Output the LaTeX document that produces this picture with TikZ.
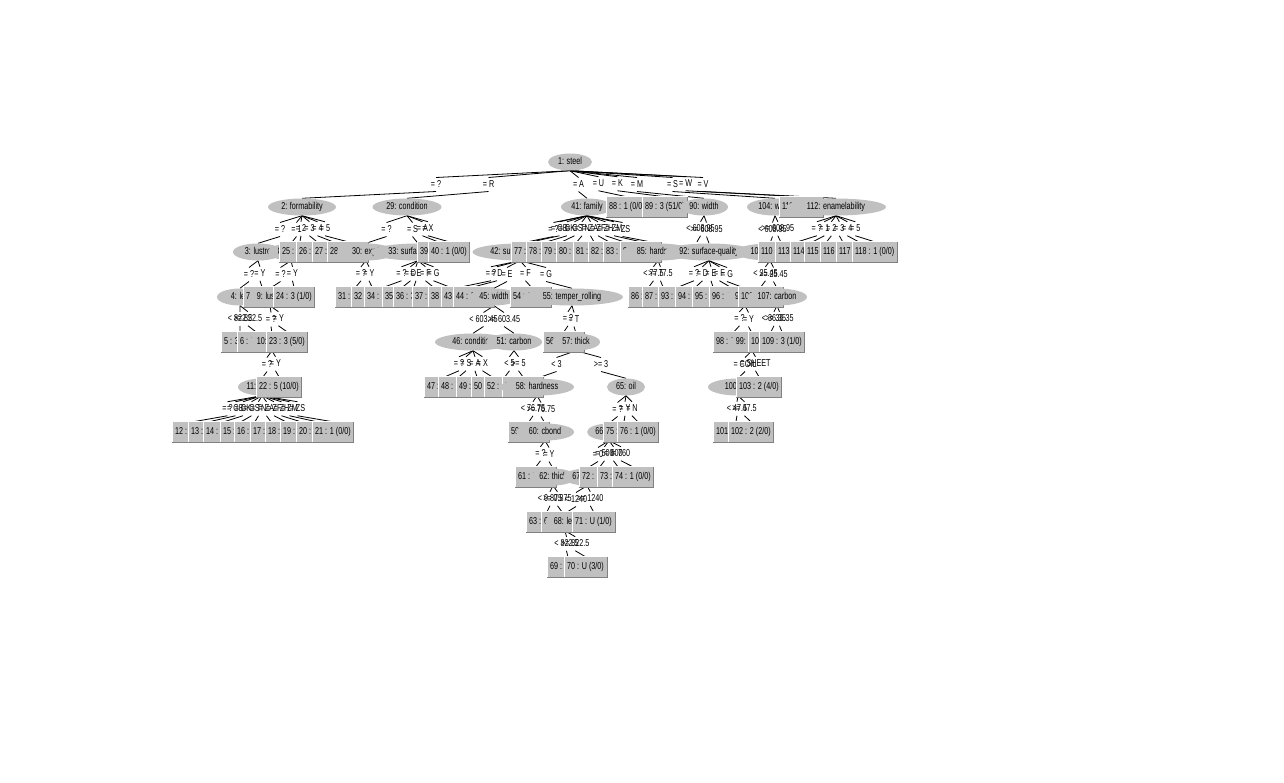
\documentclass[tikz,border=0pt]{standalone}
\usepackage{fontspec}
\newfontfamily\wf{Liberation Sans}[FakeStretch=0.72]
\usetikzlibrary{shapes.geometric,calc}
\pgfdeclarelayer{bg}
\pgfsetlayers{bg,main}
\definecolor{ngray}{HTML}{C0C0C0}
\definecolor{dgray}{HTML}{808080}
\newcommand\wfs{\wf\fontsize{10pt}{12pt}\selectfont}
\tikzset{
  ell/.style={ellipse, fill=ngray, inner sep=0pt, minimum height=17pt, text height=7pt, text depth=2pt, font=\wfs},
  bx/.style={rectangle, fill=ngray, inner xsep=3pt, inner ysep=0pt, minimum height=20pt, text height=7pt, text depth=2pt, anchor=west, font=\wfs},
  lbl/.style={inner sep=0pt, text height=7pt, text depth=2pt, font=\wfs},
  edgeline/.style={black, line width=0.8pt},
  hilite/.style={white, line width=1pt},
  shade/.style={dgray, line width=1pt}
}
\newcommand\En[5]{\node[ell, minimum width=#4pt] (n#1) at (#2,{162+45*#3}) {#5};}
\newcommand\Bx[4]{\node[bx] (n#1) at (#2,{162+45*#3}) {#4};
  \draw[hilite] (n#1.south west) -- (n#1.north west) -- (n#1.north east);
  \draw[shade] (n#1.south west) -- (n#1.south east) -- (n#1.north east);}
\newcommand\Ed[3]{\begin{pgfonlayer}{bg}
  \coordinate (mm) at ($(n#1.south)!0.5!(n#2.north)$);
  \draw[edgeline] (n#1.south) -- ($(mm)+(0,-7)$);
  \draw[edgeline] ($(mm)+(0,7)$) -- (n#2.north);
  \node[lbl] at (mm) {#3};
\end{pgfonlayer}}
\begin{document}
\begin{tikzpicture}[x=1pt,y=-1pt]
\begin{pgfonlayer}{bg}
\fill[white] (0,0) rectangle (1284,782);
\end{pgfonlayer}
\useasboundingbox (0,0) rectangle (1284,782);
% nodes in index order
\En{1}{570}{0}{44}{1: steel}
\En{2}{302}{1}{68}{2: formability}
\En{3}{258}{2}{50}{3: lustre}
\En{4}{240}{3}{46}{4: len}
\Bx{5}{221}{4}{5 : 3 (0/0)}
\Bx{6}{237}{4}{6 : 3 (0/0)}
\Bx{7}{243}{3}{7 : 3 (0/0)}
\En{8}{291}{2}{46}{8: lustre}
\En{9}{270}{3}{40}{9: lustre}
\En{10}{272}{4}{48}{10: lustre}
\En{11}{262}{5}{48}{11: family}
\Bx{12}{172}{6}{12 : 3 (0/0)}
\Bx{13}{188}{6}{13 : 3 (0/0)}
\Bx{14}{203}{6}{14 : 3 (0/0)}
\Bx{15}{220}{6}{15 : 3 (0/0)}
\Bx{16}{234}{6}{16 : 3 (0/0)}
\Bx{17}{250}{6}{17 : 3 (0/0)}
\Bx{18}{265}{6}{18 : 3 (0/0)}
\Bx{19}{280}{6}{19 : 3 (0/0)}
\Bx{20}{296}{6}{20 : 3 (0/0)}
\Bx{21}{312}{6}{21 : 1 (0/0)}
\Bx{22}{256}{5}{22 : 5 (10/0)}
\Bx{23}{266}{4}{23 : 3 (5/0)}
\Bx{24}{273}{3}{24 : 3 (1/0)}
\Bx{25}{279}{2}{25 : 3 (0/0)}
\Bx{26}{296}{2}{26 : 3 (0/0)}
\Bx{27}{312}{2}{27 : 3 (0/0)}
\Bx{28}{327}{2}{28 : 3 (0/0)}
\En{29}{407}{1}{69}{29: condition}
\En{30}{366}{2}{58}{30: exptl}
\Bx{31}{335}{3}{31 : 3 (0/0)}
\Bx{32}{351}{3}{32 : 3 (0/0)}
\En{33}{418}{2}{95}{33: surface-quality}
\Bx{34}{364}{3}{34 : 3 (0/0)}
\Bx{35}{382}{3}{35 : 3 (0/0)}
\Bx{36}{393}{3}{36 : 3 (0/0)}
\Bx{37}{412}{3}{37 : 3 (0/0)}
\Bx{38}{428}{3}{38 : 3 (0/0)}
\Bx{39}{417}{2}{39 : 3 (0/0)}
\Bx{40}{428}{2}{40 : 1 (0/0)}
\En{41}{587}{1}{52}{41: family}
\En{42}{520}{2}{95}{42: surface-quality}
\Bx{43}{441}{3}{43 : 3 (0/0)}
\Bx{44}{453}{3}{44 : 3 (0/0)}
\En{45}{494}{3}{50}{45: width}
\En{46}{473}{4}{76}{46: condition}
\Bx{47}{424}{5}{47 : 3 (0/0)}
\Bx{48}{438}{5}{48 : 3 (0/0)}
\Bx{49}{456}{5}{49 : 3 (0/0)}
\Bx{50}{471}{5}{50 : 3 (0/0)}
\En{51}{514}{4}{56}{51: carbon}
\Bx{52}{484}{5}{52 : 3 (0/0)}
\Bx{53}{502}{5}{53 : 3 (0/0)}
\Bx{54}{510}{3}{54 : 3 (0/0)}
\En{55}{572}{3}{102}{55: temper\_rolling}
\Bx{56}{543}{4}{56 : 3 (0/0)}
\En{57}{576}{4}{48}{57: thick}
\En{58}{537}{5}{74}{58: hardness}
\Bx{59}{508}{6}{59 : 3 (0/0)}
\En{60}{545}{6}{58}{60: cbond}
\Bx{61}{515}{7}{61 : 3 (0/0)}
\En{62}{553}{7}{46}{62: thick}
\Bx{63}{526}{8}{63 : 3 (0/0)}
\Bx{64}{541}{8}{64 : 3 (0/0)}
\En{65}{626}{5}{38}{65: oil}
\En{66}{609}{6}{44}{66: bore}
\En{67}{587}{7}{48}{67: width}
\En{68}{565}{8}{40}{68: len}
\Bx{69}{547}{9}{69 : 3 (0/0)}
\Bx{70}{564}{9}{70 : U (3/0)}
\Bx{71}{572}{8}{71 : U (1/0)}
\Bx{72}{579}{7}{72 : 3 (0/0)}
\Bx{73}{597}{7}{73 : 3 (0/0)}
\Bx{74}{612}{7}{74 : 1 (0/0)}
\Bx{75}{603}{6}{75 : 3 (0/0)}
\Bx{76}{617}{6}{76 : 1 (0/0)}
\Bx{77}{511}{2}{77 : 3 (0/0)}
\Bx{78}{526}{2}{78 : 3 (0/0)}
\Bx{79}{541}{2}{79 : 3 (0/0)}
\Bx{80}{556}{2}{80 : 3 (0/0)}
\Bx{81}{573}{2}{81 : 3 (0/0)}
\Bx{82}{588}{2}{82 : 3 (0/0)}
\Bx{83}{603}{2}{83 : 3 (0/0)}
\Bx{84}{620}{2}{84 : 3 (0/0)}
\En{85}{658}{2}{72}{85: hardness}
\Bx{86}{628}{3}{86 : 3 (0/0)}
\Bx{87}{642}{3}{87 : 3 (0/0)}
\Bx{88}{606}{1}{88 : 1 (0/0)}
\Bx{89}{642}{1}{89 : 3 (51/0)}
\En{90}{704}{1}{48}{90: width}
\node[inner sep=0pt, minimum size=0pt] (n91) at (697,242) {};
\En{92}{709}{2}{90}{92: surface-quality}
\Bx{93}{658}{3}{93 : 3 (0/0)}
\Bx{94}{675}{3}{94 : 3 (0/0)}
\Bx{95}{692}{3}{95 : 3 (0/0)}
\Bx{96}{709}{3}{96 : 1 (0/0)}
\En{97}{745}{3}{40}{97: oil}
\Bx{98}{713}{4}{98 : 3 (0/0)}
\En{99}{752}{4}{46}{99: shape}
\En{100}{738}{5}{60}{100: len}
\Bx{101}{713}{6}{101 : 2 (0/0)}
\Bx{102}{728}{6}{102 : 2 (2/0)}
\Bx{103}{736}{5}{103 : 2 (4/0)}
\En{104}{775}{1}{56}{104: width}
\En{105}{770}{2}{70}{105: carbon}
\Bx{106}{738}{3}{106 : 3 (0/0)}
\En{107}{777}{3}{60}{107: carbon}
\Bx{108}{748}{4}{108 : 3 (0/0)}
\Bx{109}{759}{4}{109 : 3 (1/0)}
\Bx{110}{758}{2}{110 : 3 (0/0)}
\Bx{111}{779}{1}{111 : 3 (0/0)}
\En{112}{836}{1}{100}{112: enamelability}
\Bx{113}{775}{2}{113 : 3 (0/0)}
\Bx{114}{790}{2}{114 : 3 (0/0)}
\Bx{115}{804}{2}{115 : 3 (0/0)}
\Bx{116}{820}{2}{116 : 3 (0/0)}
\Bx{117}{836}{2}{117 : 3 (0/0)}
\Bx{118}{852}{2}{118 : 1 (0/0)}
% edges
\Ed{1}{2}{= ?}\Ed{1}{29}{= R}\Ed{1}{41}{= A}\Ed{1}{88}{= U}\Ed{1}{89}{= K}
\Ed{1}{90}{= M}\Ed{1}{104}{= S}\Ed{1}{111}{= W}\Ed{1}{112}{= V}
\Ed{2}{3}{= ?}\Ed{2}{8}{= 1}\Ed{2}{25}{= 2}\Ed{2}{26}{= 3}\Ed{2}{27}{= 4}\Ed{2}{28}{= 5}
\Ed{29}{30}{= ?}\Ed{29}{33}{= S}\Ed{29}{39}{= A}\Ed{29}{40}{= X}
\Ed{41}{42}{= ?}\Ed{41}{77}{= GB}\Ed{41}{78}{= GK}\Ed{41}{79}{= GS}\Ed{41}{80}{= TN}
\Ed{41}{81}{= ZA}\Ed{41}{82}{= ZF}\Ed{41}{83}{= ZH}\Ed{41}{84}{= ZM}\Ed{41}{85}{= ZS}
\Ed{90}{91}{< 608.95}\Ed{90}{92}{>= 608.95}
\Ed{104}{105}{< 608.95}\Ed{104}{110}{>= 608.95}
\Ed{112}{113}{= ?}\Ed{112}{114}{= 1}\Ed{112}{115}{= 2}\Ed{112}{116}{= 3}\Ed{112}{117}{= 4}\Ed{112}{118}{= 5}
\Ed{3}{4}{= ?}\Ed{3}{7}{= Y}\Ed{8}{9}{= ?}\Ed{8}{24}{= Y}
\Ed{30}{31}{= ?}\Ed{30}{32}{= Y}
\Ed{33}{34}{= ?}\Ed{33}{35}{= D}\Ed{33}{36}{= E}\Ed{33}{37}{= F}\Ed{33}{38}{= G}
\Ed{42}{43}{= ?}\Ed{42}{44}{= D}\Ed{42}{45}{= E}\Ed{42}{54}{= F}\Ed{42}{55}{= G}
\Ed{85}{86}{< 77.5}\Ed{85}{87}{>= 77.5}
\Ed{92}{93}{= ?}\Ed{92}{94}{= D}\Ed{92}{95}{= E}\Ed{92}{96}{= F}\Ed{92}{97}{= G}
\Ed{105}{106}{< 25.45}\Ed{105}{107}{>= 25.45}
\Ed{4}{5}{< 822.5}\Ed{4}{6}{>= 822.5}
\Ed{9}{10}{= ?}\Ed{9}{23}{= Y}
\Ed{45}{46}{< 603.45}\Ed{45}{51}{>= 603.45}
\Ed{55}{56}{= ?}\Ed{55}{57}{= T}
\Ed{97}{98}{= ?}\Ed{97}{99}{= Y}
\Ed{107}{108}{< 36.35}\Ed{107}{109}{>= 36.35}
\Ed{10}{11}{= ?}\Ed{10}{22}{= Y}
\Ed{46}{47}{= ?}\Ed{46}{48}{= S}\Ed{46}{49}{= A}\Ed{46}{50}{= X}
\Ed{51}{52}{< 5}\Ed{51}{53}{>= 5}
\Ed{57}{58}{< 3}\Ed{57}{65}{>= 3}
\Ed{99}{100}{= COIL}\Ed{99}{103}{= SHEET}
\Ed{11}{12}{= ?}\Ed{11}{13}{= GB}\Ed{11}{14}{= GK}\Ed{11}{15}{= GS}\Ed{11}{16}{= TN}
\Ed{11}{17}{= ZA}\Ed{11}{18}{= ZF}\Ed{11}{19}{= ZH}\Ed{11}{20}{= ZM}\Ed{11}{21}{= ZS}
\Ed{58}{59}{< 76.75}\Ed{58}{60}{>= 76.75}
\Ed{65}{66}{= ?}\Ed{65}{75}{= Y}\Ed{65}{76}{= N}
\Ed{100}{101}{< 47.5}\Ed{100}{102}{>= 47.5}
\Ed{60}{61}{= ?}\Ed{60}{62}{= Y}
\Ed{66}{67}{= 0}\Ed{66}{72}{= 500}\Ed{66}{73}{= 600}\Ed{66}{74}{= 760}
\Ed{62}{63}{< 0.875}\Ed{62}{64}{>= 0.875}
\Ed{67}{68}{< 1240}\Ed{67}{71}{>= 1240}
\Ed{68}{69}{< 822.5}\Ed{68}{70}{>= 822.5}
\end{tikzpicture}
\end{document}
